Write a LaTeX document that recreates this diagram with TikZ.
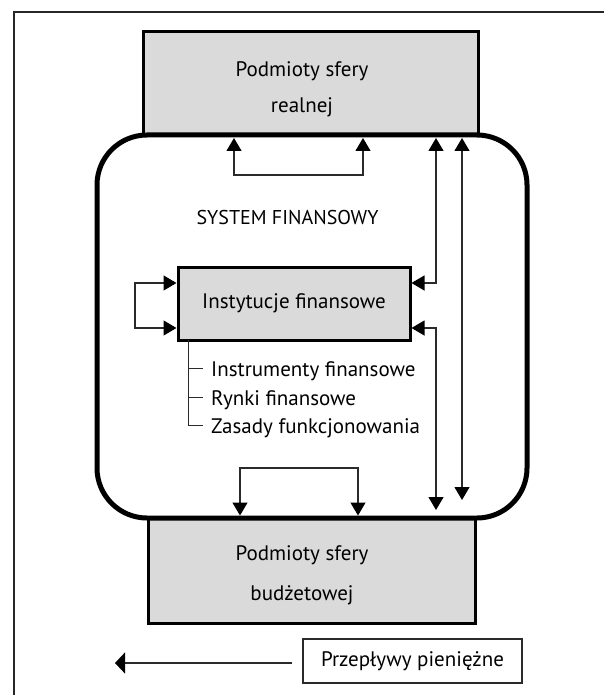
\documentclass[tikz,border=0pt]{standalone}
\usepackage{fontspec}
\setmainfont{PT Sans}
\usetikzlibrary{arrows.meta}
\definecolor{boxgray}{HTML}{DADADA}
\definecolor{linegray}{HTML}{2A2A2A}
\tikzset{
  bigbox/.style={draw=black, line width=3pt, fill=boxgray, inner sep=0pt},
  txt/.style={font=\fontsize{21}{24}\selectfont, inner sep=0pt, anchor=base},
  conn/.style={draw=linegray, line width=1.2pt},
  tip/.tip={Triangle[length=13pt,width=15pt,fill=black,color=black]},
  dbl/.style={conn, tip-tip},
  tick/.style={draw=linegray, line width=1pt},
}
\begin{document}
\begin{tikzpicture}[x=1pt,y=-1pt]
\useasboundingbox (0,0) rectangle (604,695);
% outer frame
\draw[line width=2pt, black!85] (13.5,695) -- (13.5,12) -- (604,12);

% top box
\node[bigbox, minimum width=335pt, minimum height=103pt] (top) at (310.5,83.5) {};
\node[txt] (toptxt1) at (302,77) {Podmioty sfery};
\node[txt] (toptxt2) at (302,113) {realnej};

% bottom box
\node[bigbox, minimum width=327pt, minimum height=105pt] (bot) at (311.5,570.5) {};
\node[txt] (bottxt1) at (302,560) {Podmioty sfery};
\node[txt] (bottxt2) at (302,600) {budżetowej};

% financial system rounded frame
\draw[line width=5pt, rounded corners=50pt] (97,135) rectangle (527,518);
\node[txt, font=\fontsize{20}{24}\selectfont] (sys) at (287.5,224) {SYSTEM FINANSOWY};

% institutions box
\node[bigbox, minimum width=232pt, minimum height=73pt,
      font=\fontsize{21}{24}\selectfont] (inst) at (294,303.5) {Instytucje finansowe};

% list
\coordinate (lt) at (188,340);
\coordinate (l1) at (188,368);
\coordinate (l2) at (188,397);
\coordinate (l3) at (188,425);
\draw[tick] (lt) -- (l3) -- ++(15,0);
\draw[tick] (l1) -- ++(15,0);
\draw[tick] (l2) -- ++(15,0);
\node[txt, anchor=base west] (i1) at (211,376) {Instrumenty finansowe};
\node[txt, anchor=base west] (i2) at (211,405) {Rynki finansowe};
\node[txt, anchor=base west] (i3) at (211,433) {Zasady funkcjonowania};

% top loop
\coordinate (ta) at (234,138);
\coordinate (tb) at (363,138);
\draw[dbl] (ta) -- (234,175) -- (363,175) -- (tb);

% bottom loop
\coordinate (ba) at (240,515.5);
\coordinate (bb) at (358,515.5);
\draw[dbl] (ba) -- (240,468) -- (358,468) -- (bb);

% left loop
\draw[dbl] ([yshift=20.5pt]inst.west) -- (135,283) -- (135,328) -- ([yshift=-24.5pt]inst.west);

% right connectors
\coordinate (r1) at (436,138);
\coordinate (r2) at (436,510);
\coordinate (r3) at (462,138);
\coordinate (r4) at (462,500);
\draw[dbl] (r1) -- (436,283) -- ([yshift=20.5pt]inst.east);
\draw[dbl] ([yshift=-24.5pt]inst.east) -- (436,328) -- (r2);
\draw[dbl] (r3) -- (r4);

% legend
\node[draw=linegray, line width=1.2pt, minimum width=219pt, minimum height=44pt,
      font=\fontsize{21}{24}\selectfont, inner sep=0pt] (leg) at (412.5,661) {Przepływy pieniężne};
\coordinate (legend-end) at (115,663);
\draw[conn, -{Triangle[length=10pt,width=21pt,fill=black,color=black]}] ([xshift=-10pt,yshift=-2pt]leg.west) -- (legend-end);
\end{tikzpicture}
\end{document}
